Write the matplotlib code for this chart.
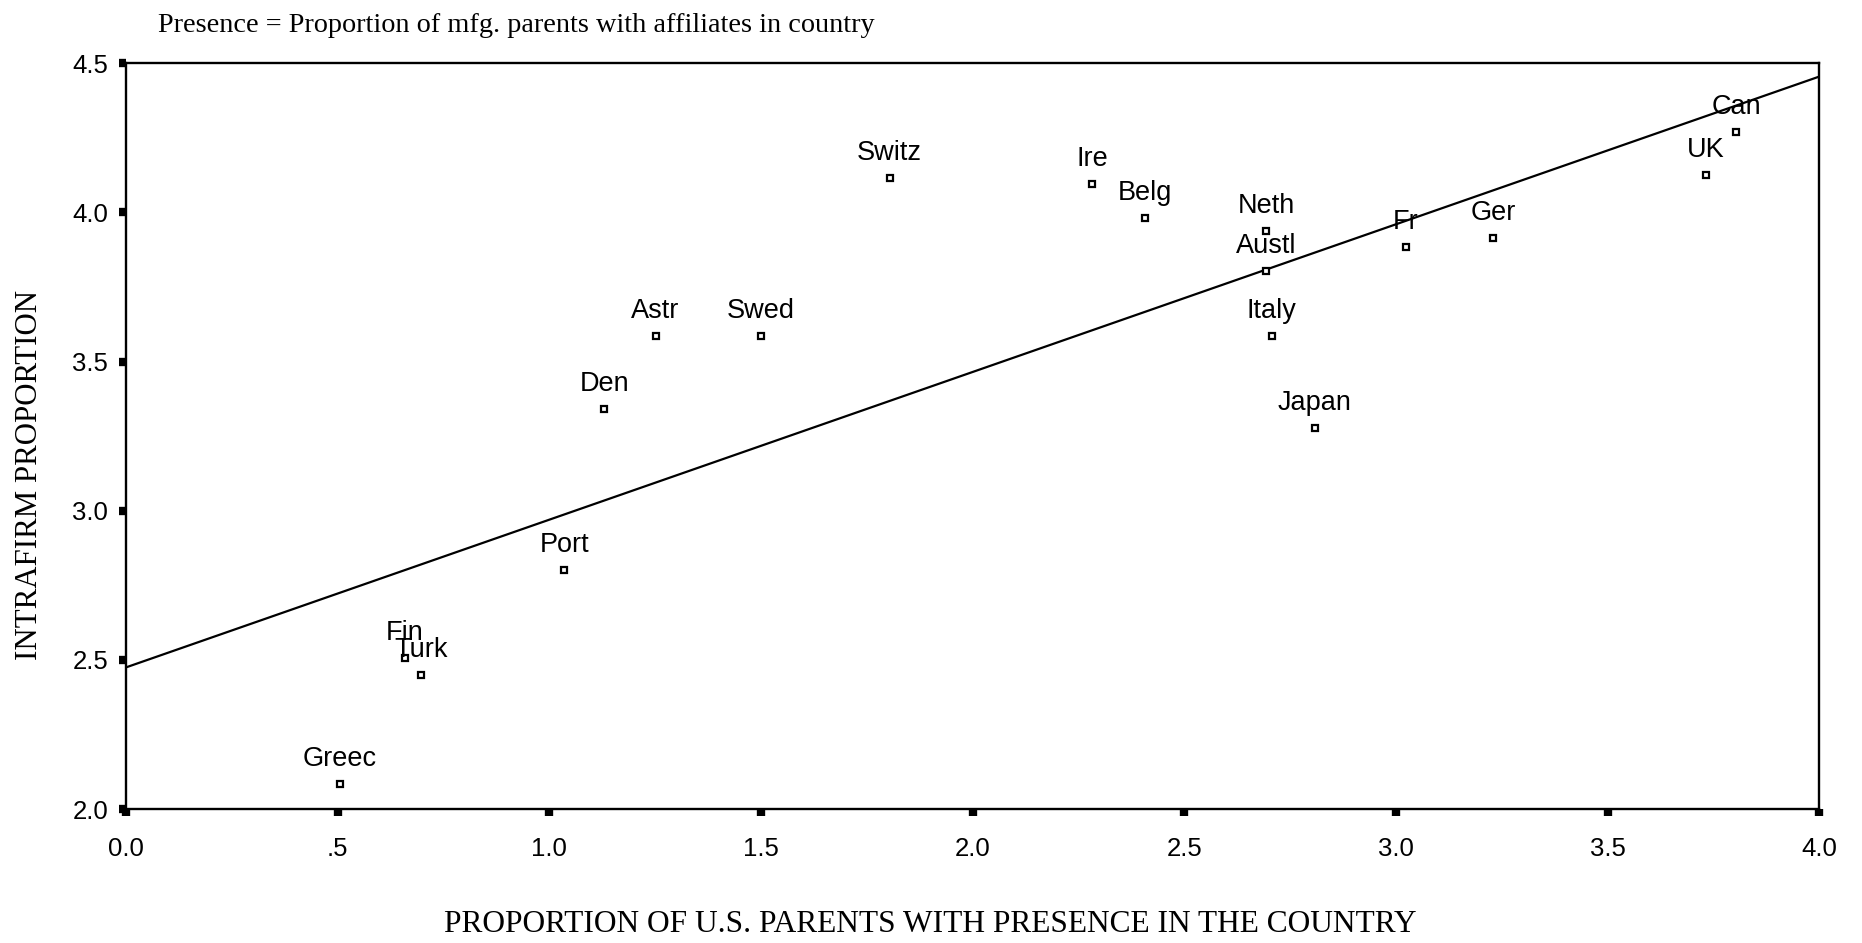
import numpy as np
import matplotlib
matplotlib.use('Agg')
import matplotlib.pyplot as plt

# Datos
paises = ['Greec', 'Fin', 'Turk', 'Port', 'Den', 'Astr', 'Swed', 'Switz', 'Ire', 'Belg',
          'Neth', 'Austl', 'Italy', 'Japan', 'Fr', 'Ger', 'UK', 'Can']
presencia = [0.505, 0.659, 0.696, 1.035, 1.13, 1.251, 1.50, 1.804, 2.283, 2.407,
             2.693, 2.693, 2.707, 2.808, 3.024, 3.229, 3.733, 3.804]
intrafirma = [2.084, 2.506, 2.45, 2.80, 3.342, 3.584, 3.584, 4.114, 4.094, 3.982,
              3.939, 3.803, 3.584, 3.278, 3.883, 3.915, 4.126, 4.269]

# recta de ajuste
intercepto = 2.475
pendiente = 0.495

xticks = [0.0, 0.5, 1.0, 1.5, 2.0, 2.5, 3.0, 3.5, 4.0]
xtick_labels = ['0.0', '.5', '1.0', '1.5', '2.0', '2.5', '3.0', '3.5', '4.0']
yticks = [2.0, 2.5, 3.0, 3.5, 4.0, 4.5]
ytick_labels = ['2.0', '2.5', '3.0', '3.5', '4.0', '4.5']

fig = plt.figure(figsize=(18.62, 9.43), dpi=100)
ax = fig.add_axes([0.0677, 0.142, 0.9093, 0.791])

xs = np.array([0.0, 4.0])
ax.plot(xs, intercepto + pendiente * xs, color='black', linewidth=1.6)

ax.plot(presencia, intrafirma, linestyle='none', marker='s', markersize=4.8,
        markerfacecolor='white', markeredgecolor='black', markeredgewidth=1.6)

for p, x, y in zip(paises, presencia, intrafirma):
    ax.annotate(p, (x, y), xytext=(0, 13), textcoords='offset points',
                ha='center', va='baseline', fontsize=19.5, family='Liberation Sans')

ax.set_xlim(0, 4)
ax.set_ylim(2, 4.5)
ax.set_xticks(xticks)
ax.set_xticklabels(xtick_labels)
ax.set_yticks(yticks)
ax.set_yticklabels(ytick_labels)
for lab in ax.get_xticklabels() + ax.get_yticklabels():
    lab.set_family('Liberation Sans')
    lab.set_fontsize(18.5)
ax.tick_params(axis='x', length=5, width=6, pad=15, direction='out')
ax.tick_params(axis='y', length=5, width=6, pad=8, direction='out')
for s in ax.spines.values():
    s.set_linewidth(1.7)

fig.text(0.085, 0.973, 'Presence = Proportion of mfg. parents with affiliates in country',
         family='Liberation Serif', fontsize=20.3, va='center', ha='left')
fig.text(0.4995, 0.02, 'PROPORTION OF U.S. PARENTS WITH PRESENCE IN THE COUNTRY',
         family='Liberation Serif', fontsize=22.6, va='center', ha='center')
fig.text(0.016, 0.496, 'INTRAFIRM PROPORTION', family='Liberation Serif', fontsize=22.2,
         va='center', ha='center', rotation=90)

fig.savefig('out.png', dpi=100)
